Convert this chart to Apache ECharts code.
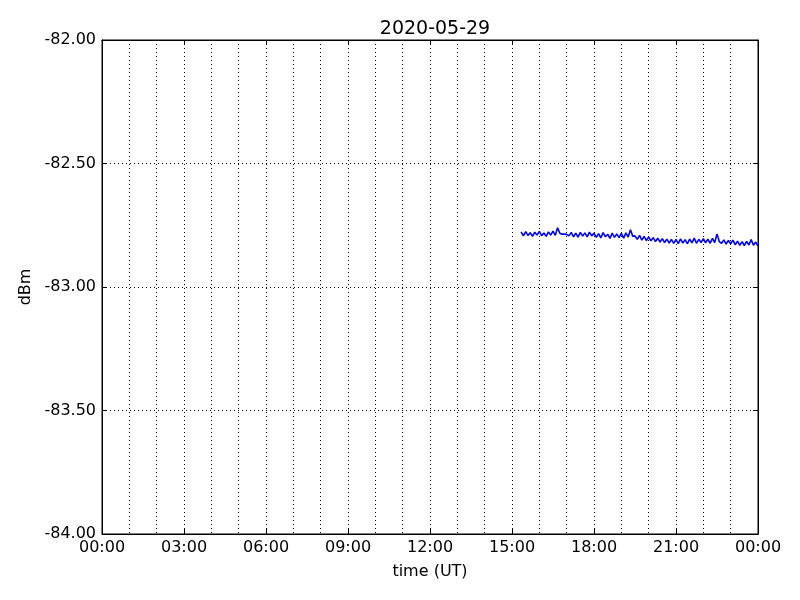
<!DOCTYPE html>
<html>
<head>
<meta charset="utf-8">
<script src="https://cdn.jsdelivr.net/npm/echarts@6/dist/echarts.min.js"></script>
<style>html,body{margin:0;padding:0;background:#fff}#c{width:800px;height:600px}</style>
</head>
<body>
<div id="c"></div>
<script>
const chartTitle = '2020-05-29';
const startTime = '15:20';
const stepMinutes = 5;
const values = [
  -82.777, -82.793, -82.776, -82.791, -82.780, -82.795, -82.778, -82.790,
  -82.775, -82.792, -82.781, -82.795, -82.777, -82.790, -82.774, -82.791, -82.760, -82.782, -82.786, -82.786,
  -82.787, -82.793, -82.779, -82.797, -82.782, -82.798, -82.779, -82.794, -82.781, -82.797, -82.778, -82.793,
  -82.782, -82.799, -82.784, -82.801, -82.780, -82.797, -82.786, -82.803, -82.782, -82.799, -82.785, -82.800,
  -82.783, -82.802, -82.781, -82.798, -82.768, -82.794, -82.793, -82.807, -82.791, -82.810, -82.795, -82.812,
  -82.797, -82.813, -82.800, -82.816, -82.802, -82.818, -82.804, -82.820, -82.806, -82.822, -82.807, -82.823,
  -82.807, -82.824, -82.805, -82.822, -82.808, -82.825, -82.806, -82.821, -82.802, -82.823, -82.807, -82.820,
  -82.804, -82.821, -82.806, -82.823, -82.803, -82.820, -82.785, -82.816, -82.823, -82.809, -82.826, -82.811,
  -82.825, -82.810, -82.829, -82.814, -82.831, -82.816, -82.832, -82.815, -82.830, -82.808, -82.831, -82.818,
  -82.834
];
const yTicks = [-84, -83.5, -83, -82.5, -82];
const xLabelHours = [0, 3, 6, 9, 12, 15, 18, 21, 24];

const [sh, sm] = startTime.split(':').map(Number);
const startH = sh + sm / 60;
const data = values.map((v, i) => [startH + i * stepMinutes / 60, v]);

const font = 'DejaVu Sans';
const fmtHour = h => { const hh = Math.round(h) % 24; return (hh < 10 ? '0' : '') + hh + ':00'; };

const chart = echarts.init(document.getElementById('c'), null, {renderer: 'canvas'});
const axisCommon = {
  axisLine: {show: true, onZero: false, lineStyle: {color: '#000', width: 1}},
  axisTick: {show: true, inside: true, length: 5, lineStyle: {color: '#000'}},
};
chart.setOption({
  animation: false,
  title: {text: chartTitle, left: 430, textAlign: 'center', top: 15,
    textStyle: {fontFamily: font, fontSize: 19, fontWeight: 'normal', color: '#000'}},
  grid: {left: 102, right: 42, top: 40, bottom: 66, show: true, borderColor: '#000', borderWidth: 1},
  xAxis: [{
    type: 'value', min: 0, max: 24, interval: 3, position: 'bottom',
    name: 'time (UT)', nameLocation: 'middle', nameGap: 30,
    nameTextStyle: {fontFamily: font, fontSize: 16, color: '#000'},
    ...axisCommon,
    minorTick: {show: true, splitNumber: 3, length: 0},
    axisLabel: {fontFamily: font, fontSize: 16, color: '#000', margin: 6,
      formatter: v => xLabelHours.includes(v) ? fmtHour(v) : ''},
    splitLine: {show: true, lineStyle: {type: [1, 3], color: '#000', width: 1}},
    minorSplitLine: {show: true, lineStyle: {type: [1, 3], color: '#000', width: 1}}
  }, {
    type: 'value', min: 0, max: 24, interval: 3, position: 'top',
    ...axisCommon, axisLabel: {show: false}, splitLine: {show: false}
  }],
  yAxis: [{
    type: 'value', min: yTicks[0], max: yTicks[yTicks.length - 1], interval: 0.5,
    name: 'dBm', nameLocation: 'middle', nameGap: 68,
    nameTextStyle: {fontFamily: font, fontSize: 16, color: '#000'},
    ...axisCommon,
    axisLabel: {fontFamily: font, fontSize: 16, color: '#000', margin: 6,
      formatter: v => v.toFixed(2)},
    splitLine: {show: true, lineStyle: {type: [1, 3], color: '#000', width: 1}}
  }, {
    type: 'value', min: yTicks[0], max: yTicks[yTicks.length - 1], interval: 0.5, position: 'right',
    ...axisCommon, axisLabel: {show: false}, splitLine: {show: false}
  }],
  series: [{
    type: 'line', data: data, showSymbol: false, symbol: 'none',
    lineStyle: {color: '#0000ff', width: 1.6}, itemStyle: {color: '#0000ff'}
  }]
});
</script>
</body>
</html>
